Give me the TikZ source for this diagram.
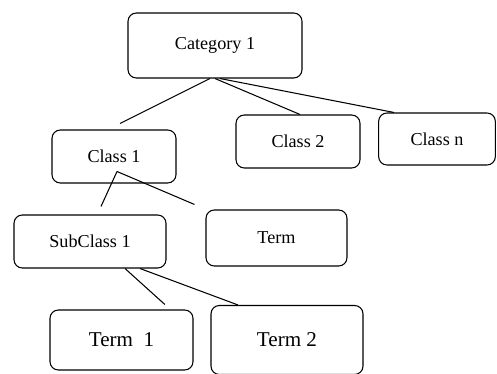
\documentclass[tikz,border=0pt]{standalone}
\usepackage{fontspec}
\setmainfont{Liberation Serif}
\usetikzlibrary{positioning}
\tikzstyle{box} = [draw=black, line width=0.9pt, rounded corners=0.25cm, text centered, font=\fontsize{15.5}{18}\selectfont]
\tikzstyle{bigbox} = [box, font=\fontsize{18}{20}\selectfont]
\tikzstyle{link} = [line width=0.9pt]
\begin{document}
\begin{tikzpicture}[x=0.03cm, y=-0.03cm]
                        \useasboundingbox (0,0) rectangle (497,374);
                        \node[box, minimum width=5.22cm, minimum height=1.95cm] (cat) at (215,45.5) {Category 1};
                        \node[box, minimum width=3.72cm, minimum height=1.59cm] (cls1) at (114,156.5) {Class 1};
                        \node[box, minimum width=3.72cm, minimum height=1.59cm] (cls2) at (298,141.5) {Class 2};
                        \node[box, minimum width=3.5cm, minimum height=1.56cm] (clsn) at (437,139) {Class n};
                        \node[box, minimum width=4.56cm, minimum height=1.59cm] (sub1) at (90,241.5) {SubClass 1};
                        \node[box, minimum width=4.23cm, minimum height=1.68cm] (term) at (276.5,238) {Term};
                        \node[bigbox, minimum width=4.29cm, minimum height=1.8cm] (term1) at (121.5,340) {Term\ \ 1};
                        \node[bigbox, minimum width=4.56cm, minimum height=2.07cm] (term2) at (287,340) {Term 2};
                        \draw[link] ([xshift=-0.15cm]cat.south) -- ([xshift=0.18cm, yshift=0.18cm]cls1.north);
                        \draw[link] ([xshift=0.0cm]cat.south) -- ([xshift=0.06cm]cls2.north);
                        \draw[link] ([xshift=0.15cm]cat.south) -- ([xshift=-1.29cm]clsn.north);
                        \draw[link] ([xshift=0.09cm, yshift=-0.45cm]cls1.center) -- ([xshift=0.33cm, yshift=0.24cm]sub1.north);
                        \draw[link] ([xshift=0.09cm, yshift=-0.45cm]cls1.center) -- ([xshift=-0.33cm, yshift=0.15cm]term.north west);
                        \draw[link] ([xshift=1.05cm]sub1.south) -- ([xshift=1.3cm, yshift=0.15cm]term1.north);
                        \draw[link] ([xshift=1.5cm]sub1.south) -- ([xshift=-1.47cm]term2.north);
\end{tikzpicture}
\end{document}
